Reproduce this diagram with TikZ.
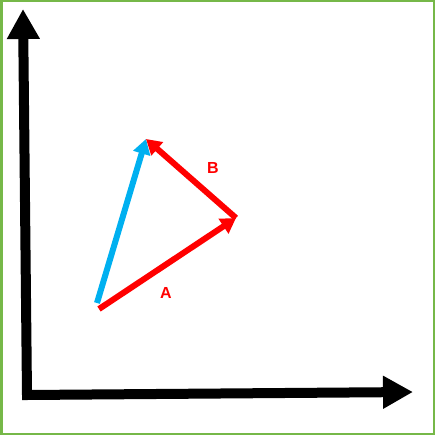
\documentclass[tikz,border=0pt]{standalone}
\usepackage{fontspec}
\setsansfont{Liberation Sans}
\usetikzlibrary{arrows.meta}
\definecolor{frame}{RGB}{118,184,72}
\definecolor{vred}{RGB}{255,0,0}
\definecolor{vblue}{RGB}{0,176,240}
\tikzset{
  axis/.style={line width=10pt, line join=miter, {Triangle[length=30pt,width=31pt]}-{Triangle[length=30pt,width=31pt]}},
  vec/.style={line width=6pt, -{Triangle[length=15pt,width=17pt]}},
  lab/.style={text=vred, font=\sffamily\bfseries\fontsize{16}{16}\selectfont}
}
\begin{document}
\begin{tikzpicture}[x=1pt,y=-1pt]
\useasboundingbox (0,0) rectangle (435,435);
\draw [frame, line width=2.5pt] (1.25,1.25) rectangle (433.75,433.75);
\coordinate (ytip) at (23,9);
\coordinate (corner) at (27,395);
\coordinate (xtip) at (413,392);
\draw [axis] (ytip)--(corner)--(xtip);
\coordinate (a0) at (99,309);
\coordinate (a1) at (236,218);
\coordinate (b1) at (146,139);
\coordinate (c0) at (97,303);
\draw [vec, vblue] (c0)--(b1);
\draw [vec, vred] (a0)--(a1);
\draw [vec, vred] (a1)--(b1);
\node [lab] (la) at (166,293) {A};
\node [lab] (lb) at (213,168) {B};
\end{tikzpicture}
\end{document}
